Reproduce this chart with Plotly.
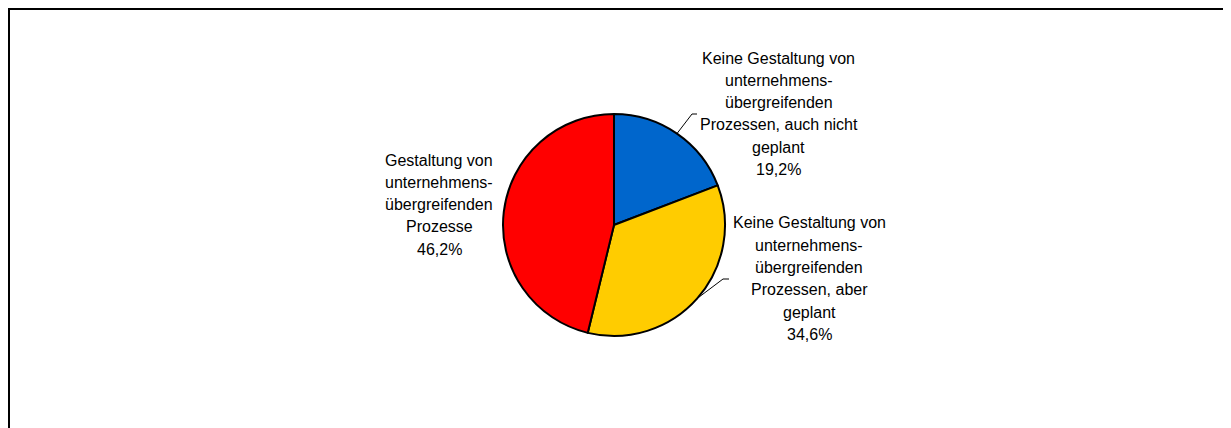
import math
import plotly.graph_objects as go

PAGE_W, PAGE_H = 1231, 428
BODY_MARGIN = 8  # default page margin around the plot div
W, H = PAGE_W - BODY_MARGIN, PAGE_H - BODY_MARGIN

# ---- data ----
categories = [
    "Keine Gestaltung von unternehmens-übergreifenden Prozessen, auch nicht geplant",
    "Keine Gestaltung von unternehmens-übergreifenden Prozessen, aber geplant",
    "Gestaltung von unternehmens-übergreifenden Prozesse",
]
label_lines = [
    ["Keine Gestaltung von", "unternehmens-", "übergreifenden", "Prozessen, auch nicht", "geplant"],
    ["Keine Gestaltung von", "unternehmens-", "übergreifenden", "Prozessen, aber", "geplant"],
    ["Gestaltung von", "unternehmens-", "übergreifenden", "Prozesse"],
]
values = [19.2, 34.6, 46.2]
colors = ["#0066CC", "#FFCC00", "#FF0000"]

# ---- layout geometry (page pixels) ----
CX, CY, R = 614, 225, 111
label_anchor = [(779, 58), (809, 223), (439, 160)]  # centre x, first-line y
LINE_H = 22.3
leaders = {0: ((692, 114), (697, 114)), 1: ((723, 279), (729, 279))}
FONT = dict(family="Liberation Sans, Arial, sans-serif", size=16, color="#000000")


def px(x):
    return (x - BODY_MARGIN) / W


def py(y):
    return 1 - (y - BODY_MARGIN) / H


fig = go.Figure(
    go.Pie(
        labels=categories,
        values=values,
        sort=False,
        direction="clockwise",
        rotation=0,
        marker=dict(colors=colors, line=dict(color="#000000", width=2)),
        textinfo="none",
        hoverinfo="skip",
        showlegend=False,
        domain=dict(x=[px(CX - R), px(CX + R)], y=[py(CY + R), py(CY - R)]),
    )
)

annotations = []
shapes = []
total = sum(values)
cum = 0.0
for i, v in enumerate(values):
    pct = f"{v:.1f}".replace(".", ",") + "%"
    lines = label_lines[i] + [pct]
    ax, ay = label_anchor[i]
    for k, t in enumerate(lines):
        annotations.append(dict(
            x=px(ax), y=py(ay + k * LINE_H), xref="paper", yref="paper",
            text=t, showarrow=False, xanchor="center", yanchor="middle",
            font=FONT,
        ))
    mid = (cum + v / 2) / total * 2 * math.pi
    cum += v
    if i in leaders:
        sx = CX + R * math.sin(mid)
        sy = CY - R * math.cos(mid)
        (ex, ey), (hx, hy) = leaders[i]
        shapes.append(dict(type="line", xref="paper", yref="paper",
                           x0=px(sx), y0=py(sy), x1=px(ex), y1=py(ey),
                           line=dict(color="#000000", width=1)))
        shapes.append(dict(type="line", xref="paper", yref="paper",
                           x0=px(ex), y0=py(ey), x1=px(hx), y1=py(hy),
                           line=dict(color="#000000", width=1)))

# frame (top and left edges), drawn at the edge of the plot area
shapes.append(dict(type="line", xref="paper", yref="paper",
                   x0=0, y0=1 - 1 / H, x1=1, y1=1 - 1 / H,
                   line=dict(color="#000000", width=2)))
shapes.append(dict(type="line", xref="paper", yref="paper",
                   x0=1 / W, y0=1, x1=1 / W, y1=0,
                   line=dict(color="#000000", width=2)))

fig.update_layout(
    width=W, height=H,
    margin=dict(l=0, r=0, t=0, b=0),
    paper_bgcolor="#FFFFFF", plot_bgcolor="#FFFFFF",
    annotations=annotations, shapes=shapes,
)

fig.write_html("out.html")
